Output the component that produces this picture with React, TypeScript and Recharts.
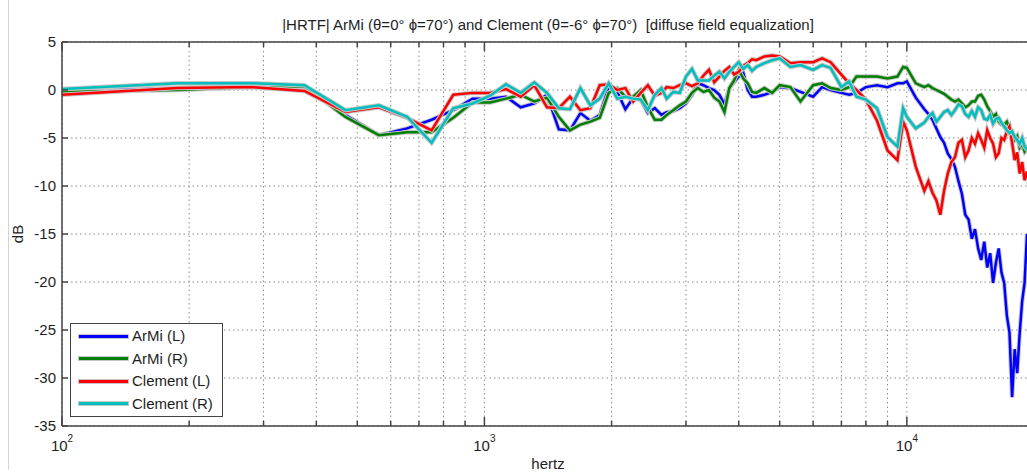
import React from "react";
import { LineChart, Line, XAxis, YAxis, CartesianGrid } from "recharts";

// frequency points (Hz): linear FFT bins at the low end, then hand-picked steps
const FREQ = [
  100, 187.5, 281.25, 375, 468.75, 562.5, 656.25, 750, 843.75, 937.5,
  1031.25, 1125, 1218.75, 1312.5, 1406.25, 1500, 1593.75, 1687.5, 1781.25, 1875,
  1968.75, 2062.5, 2156.25, 2250, 2343.75, 2437.5, 2531.25, 2625,
  2700, 2800, 2900, 3000, 3100, 3200, 3300, 3400, 3500, 3600,
  3700, 3800, 3900, 4000, 4100, 4200, 4300, 4400, 4600, 4800,
  5000, 5300, 5600, 6000, 6300, 6600, 7000, 7300, 7600, 8000,
  8500, 9000, 9500, 9800, 10000, 10500, 11000, 11250, 11500, 11750,
  12000, 12250, 12500, 12750, 13000, 13250, 13500, 13750, 14000, 14250,
  14500, 14750, 15000, 15250, 15500, 15750, 16000, 16250, 16500, 16750,
  17000, 17250, 17500, 17750, 18000, 18250, 18500, 18750, 19000, 19250,
  19500, 19750, 20000,
];

const ARMI_L = [
  -0.2, 0.2, 0.4, 0.3, -2.6, -4.7, -4.0, -3.1, -2.1, -0.9,
  -0.9, -0.7, -1.8, -1.4, -0.5, -4.1, -4.2, -2.4, -3.2, -2.6,
  0.3, -0.2, -2.0, -0.8, -1.0, -2.4, -1.9, -2.6,
  -2.3, -2.2, -1.9, -1.4, -0.5, 0.7, 0.5, 0.2, 0.0, -0.5,
  -1.5, 0.2, 0.8, 1.4, 1.8, 0.0, -0.7, -0.7, -0.5, -0.2,
  0.3, 0.2, -0.2, -0.7, 0.3, 0.0, -0.3, -0.5, -0.3, 0.3,
  0.5, 0.3, 0.7, 0.7, 0.9, -0.8, -2.0, -2.5, -3.1, -4.0,
  -4.9, -5.5, -6.6, -7.2, -8.0, -9.5, -10.8, -13.0, -13.5, -15.5,
  -14.5, -16.5, -17.7, -15.8, -18.5, -17.0, -20.1, -18.0, -16.5, -19.0,
  -20.1, -23.5, -25.3, -32.0, -27.0, -29.5, -25.3, -22.0, -20.1, -15.0,
  -16.5, -14.5, -14.0,
];

const ARMI_R = [
  -0.2, 0.0, 0.3, 0.4, -2.8, -4.7, -4.4, -4.4, -2.9, -1.3,
  -1.3, -0.9, -0.5, -1.2, -0.8, -2.8, -4.2, -3.6, -3.3, -2.9,
  -0.3, 0.2, -0.7, -0.7, 0.0, -1.8, -3.1, -3.1,
  -2.6, -2.1, -1.6, -1.2, -0.3, 0.2, -0.2, 0.0, -0.8, -1.2,
  -2.3, 0.2, 1.0, 2.1, 1.2, 0.7, -0.2, -0.3, 0.2, -0.3,
  0.5, 0.3, -1.2, 0.5, 0.7, 0.2, 0.0, 0.3, 1.4, 1.4,
  1.4, 1.2, 1.4, 2.4, 2.3, 0.7, 0.3, 0.5, 0.2, 0.0,
  -0.2, -0.4, -0.7, -1.0, -1.2, -1.0, -1.4, -1.8, -1.6, -1.2,
  -1.2, -0.6, -0.5, -1.0, -1.7, -2.2, -2.8, -2.5, -3.3, -3.6,
  -3.6, -3.3, -4.0, -4.6, -5.2, -4.8, -6.0, -5.6, -6.4, -6.0,
  -6.8, -6.5, -7.0,
];

const CLEM_L = [
  -0.5, 0.2, 0.3, -0.1, -2.3, -1.8, -2.9, -4.2, -0.5, -0.3,
  -0.3, 0.1, -0.7, 0.5, -1.8, -1.9, -0.7, -2.1, -1.9, 0.5,
  0.6, 0.0, 0.2, -1.2, -0.3, 0.5, -0.6, -0.3,
  0.3, 0.2, 0.5, 0.7, 0.4, 0.7, 1.5, 2.1, 0.8, 1.4,
  2.0, 2.4, 1.6, 1.9, 2.5, 2.8, 3.2, 3.1, 3.5, 3.6,
  3.5, 2.8, 2.9, 2.9, 3.3, 2.9, 1.6, 0.7, 0.0, -1.0,
  -3.2, -6.3, -7.3, -3.3, -4.2, -8.0, -10.5, -9.5, -10.7, -11.5,
  -13.0, -10.5, -8.7, -7.5, -7.0, -5.5, -5.2, -7.0, -6.3, -5.0,
  -5.6, -4.5, -5.2, -6.0, -4.2, -5.0, -5.6, -7.0, -6.6, -5.0,
  -5.2, -4.3, -3.8, -5.5, -7.3, -6.5, -8.7, -7.5, -9.4, -8.5,
  -10.0, -9.0, -10.4,
];

const CLEM_R = [
  0.1, 0.7, 0.7, 0.5, -2.1, -1.6, -2.8, -5.5, -1.9, -1.4,
  -0.6, 0.6, -0.3, 0.8, -0.3, -1.9, -2.0, 0.2, -1.6, -0.9,
  0.7, -0.9, -0.7, -0.9, -1.0, -2.1, -0.5, 0.2,
  -0.9, -0.2, -0.3, 1.4, 2.2, 1.0, 1.0, 1.0, 1.5, 1.9,
  1.2, 1.9, 2.4, 2.9, 2.2, 2.6, 2.0, 2.4, 2.8, 3.1,
  3.3, 2.4, 2.6, 2.1, 2.6, 2.3, 0.3, 0.9, -0.7, -1.0,
  -1.9, -4.9, -5.9, -1.9, -2.8, -4.0, -3.4, -2.8, -2.4, -3.3,
  -2.8, -2.3, -2.1, -2.6, -2.1, -1.5, -1.7, -2.5, -2.8, -2.2,
  -2.8, -1.8, -2.1, -3.0, -3.1, -2.6, -3.5, -3.0, -2.9, -3.4,
  -3.8, -4.2, -4.5, -4.3, -4.9, -5.2, -5.6, -5.0, -5.9, -6.2,
  -6.5, -6.8, -7.0,
];

const X_TICKS = [
  100, 200, 300, 400, 500, 600, 700, 800, 900,
  1000, 2000, 3000, 4000, 5000, 6000, 7000, 8000, 9000,
  10000, 20000,
];
const Y_TICKS = [-35, -30, -25, -20, -15, -10, -5, 0, 5];
const DECADES: Record<number, string> = { 100: "2", 1000: "3", 10000: "4" };

const SERIES = [
  { key: "armiL", name: "ArMi (L)", color: "#0000ff" },
  { key: "armiR", name: "ArMi (R)", color: "#008000" },
  { key: "clemL", name: "Clement (L)", color: "#ff0000" },
  { key: "clemR", name: "Clement (R)", color: "#00bfbf" },
];

const DATA = FREQ.map((f, i) => ({
  f,
  armiL: ARMI_L[i],
  armiR: ARMI_R[i],
  clemL: CLEM_L[i],
  clemR: CLEM_R[i],
}));

const AXIS = "#444";
const TXT = "#1e1e1e";
const FONT = "'Liberation Sans', Arial, sans-serif";
const FS = 15;

const BottomTick = (props: any) => {
  const { x, y, payload } = props;
  const exp = DECADES[payload.value];
  return (
    <g>
      <line x1={x} x2={x} y1={y} y2={y - (exp ? 9 : 5)} stroke={AXIS} strokeWidth={1.5} />
      {exp && (
        <text x={x} y={y + 25} textAnchor="middle" fontSize={FS} fill={TXT} fontFamily={FONT}>
          10<tspan dy={-9} fontSize={10}>{exp}</tspan>
        </text>
      )}
    </g>
  );
};

const TopTick = (props: any) => {
  const { x, y, payload } = props;
  const exp = DECADES[payload.value];
  return <line x1={x} x2={x} y1={y} y2={y + (exp ? 9 : 5)} stroke={AXIS} strokeWidth={1.5} />;
};

const LeftTick = (props: any) => {
  const { x, y, payload } = props;
  return (
    <g>
      <line x1={x} x2={x + 6} y1={y} y2={y} stroke={AXIS} strokeWidth={1.5} />
      <text x={x - 6} y={y + 5} textAnchor="end" fontSize={FS} fill={TXT} fontFamily={FONT}>
        {payload.value}
      </text>
    </g>
  );
};

export default function App() {
  return (
    <div
      style={{
        position: "absolute", left: 0, top: 0, width: 1027, height: 472,
        overflow: "hidden", background: "#fff", fontFamily: FONT, color: TXT,
      }}
    >
      <div style={{ position: "absolute", left: 8, top: 0, width: 1, height: 470, background: "#d4d4d4" }} />
      <LineChart width={1045} height={472} data={DATA} margin={{ top: 32, right: 11, bottom: 16, left: 0 }}>
        <CartesianGrid stroke="#8a8a8a" strokeDasharray="1.5 3" />
        <XAxis
          dataKey="f" type="number" scale="log" domain={[100, 20000]} allowDataOverflow
          ticks={X_TICKS} interval={0} tick={<BottomTick />} tickSize={0} tickMargin={0}
          tickLine={false} axisLine={{ stroke: AXIS, strokeWidth: 1.5 }} height={30}
        />
        <XAxis
          xAxisId="top" orientation="top" dataKey="f" type="number" scale="log" domain={[100, 20000]}
          allowDataOverflow ticks={X_TICKS} interval={0} tick={<TopTick />} tickSize={0} tickMargin={0}
          tickLine={false} axisLine={{ stroke: AXIS, strokeWidth: 1.5 }} height={10}
        />
        <YAxis
          type="number" domain={[-35, 5]} allowDataOverflow ticks={Y_TICKS} interval={0}
          tick={<LeftTick />} tickSize={0} tickMargin={0} tickLine={false}
          axisLine={{ stroke: AXIS, strokeWidth: 1.5 }} width={62}
        />
        {SERIES.flatMap((s) => [
          <Line key={s.key + "-halo"} dataKey={s.key} stroke="#c6c6c6" strokeWidth={4.5}
            dot={false} isAnimationActive={false} legendType="none" />,
          <Line key={s.key} dataKey={s.key} name={s.name} stroke={s.color} strokeWidth={2.5}
            dot={false} isAnimationActive={false} />,
        ])}
      </LineChart>

      <div style={{ position: "absolute", left: 62, width: 972, top: 15, fontSize: FS, lineHeight: "20px", textAlign: "center", whiteSpace: "pre" }}>
        {"|HRTF| ArMi (θ=0° ϕ=70°) and Clement (θ=-6° ϕ=70°)  [diffuse field equalization]"}
      </div>
      <div style={{ position: "absolute", left: 62, width: 972, top: 455, fontSize: FS, lineHeight: "18px", textAlign: "center" }}>
        hertz
      </div>
      <div style={{ position: "absolute", left: 18, top: 234, fontSize: FS, lineHeight: "18px", transform: "translate(-50%, -50%) rotate(-90deg)" }}>
        dB
      </div>

      <div style={{ position: "absolute", left: 70, top: 323, width: 151, height: 92, border: `1.5px solid ${AXIS}`, background: "#fff" }}>
        {SERIES.map((s, i) => (
          <div key={s.key} style={{ position: "absolute", left: 0, top: 12 + i * 22.5 - 10, height: 20, width: 151 }}>
            <div style={{ position: "absolute", left: 8, top: 8.5, width: 49, height: 3, background: s.color, boxShadow: "0 0 0 1px #c6c6c6" }} />
            <div style={{ position: "absolute", left: 61, top: 0, fontSize: FS, lineHeight: "20px", whiteSpace: "nowrap" }}>
              {s.name}
            </div>
          </div>
        ))}
      </div>
    </div>
  );
}
